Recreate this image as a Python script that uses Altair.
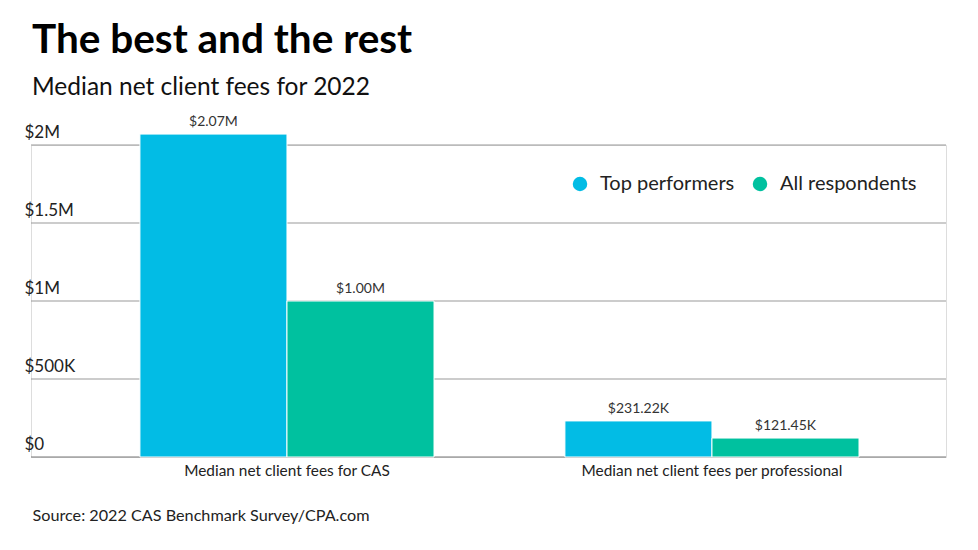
import altair as alt
import pandas as pd

categories = ["Median net client fees for CAS", "Median net client fees for CAS",
              "Median net client fees per professional", "Median net client fees per professional"]
series = ["Top performers", "All respondents", "Top performers", "All respondents"]
values = [2070000, 1000000, 231220, 121450]
labels = ["$2.07M", "$1.00M", "$231.22K", "$121.45K"]
y_ticks = [0, 500000, 1000000, 1500000, 2000000]

series_order = ["Top performers", "All respondents"]
cat_order = ["Median net client fees for CAS", "Median net client fees per professional"]
colors = ["#02BCE5", "#00C19F"]

df = pd.DataFrame({"category": categories, "series": series, "value": values, "label": labels})
grid_df = pd.DataFrame({"value": y_ticks})

FONT = "Lato"

x_scale = alt.Scale(paddingInner=0.308, paddingOuter=0.2305, align=0.556)
y_scale = alt.Scale(domain=[0, 2000000], nice=False)

x_axis = alt.Axis(title="Source: 2022 CAS Benchmark Survey/CPA.com", labelAngle=0,
                  labelFontSize=15.4, labelColor="#222", labelPadding=6, labelFont=FONT,
                  labelLimit=0, grid=False, ticks=False, domain=False,
                  titleAnchor="start", titleAlign="left", titleX=1, titleY=63,
                  titleBaseline="alphabetic", titleFont=FONT, titleFontSize=16.2,
                  titleFontWeight="normal", titleColor="#222")
y_axis = alt.Axis(title=None, values=y_ticks, grid=False,
                  labelExpr="datum.value == 0 ? '$0' : (datum.value < 1000000 ? '$' + datum.value/1000 + 'K' : '$' + datum.value/1000000 + 'M')",
                  labelAlign="left", labelBaseline="alphabetic", labelPadding=7,
                  labelOffset=-8, labelFontSize=17, labelColor="#222", labelFont=FONT,
                  ticks=False, tickSize=0, domain=False)

grid = alt.Chart(grid_df).mark_rule(strokeWidth=1).encode(
    y=alt.Y("value:Q", scale=y_scale, axis=y_axis),
    color=alt.condition(alt.datum.value == 0, alt.value("#777"), alt.value("#999")))

bars = alt.Chart(df).mark_bar(stroke="white", strokeWidth=1).encode(
    x=alt.X("category:N", sort=cat_order, scale=x_scale, axis=x_axis),
    xOffset=alt.XOffset("series:N", sort=series_order, scale=alt.Scale(paddingInner=0, paddingOuter=0)),
    y=alt.Y("value:Q", scale=y_scale, axis=y_axis),
    color=alt.Color("series:N", sort=series_order,
                    scale=alt.Scale(domain=series_order, range=colors),
                    legend=alt.Legend(title=None, orient="none", legendX=539, legendY=29,
                                      direction="horizontal", symbolType="circle",
                                      symbolSize=210, symbolStrokeWidth=0,
                                      labelFontSize=20, labelFont=FONT, labelColor="#222",
                                      labelOffset=10, columnPadding=15)),
)

text = alt.Chart(df).mark_text(dy=-8, baseline="alphabetic", fontSize=14, font=FONT, color="#333").encode(
    x=alt.X("category:N", sort=cat_order, scale=x_scale, axis=x_axis),
    xOffset=alt.XOffset("series:N", sort=series_order),
    y=alt.Y("value:Q", scale=y_scale, axis=y_axis), text="label:N")

chart = alt.layer(grid, bars, text).properties(
    width=915, height=312,
    autosize=alt.AutoSizeParams(type="none"),
    padding={"left": 23, "top": 137, "right": 24, "bottom": 85},
    title=alt.TitleParams(text="The best and the rest", subtitle="Median net client fees for 2022",
                          anchor="start", frame="group", offset=16, dx=1,
                          font=FONT, fontSize=40.5, fontWeight="bold", color="#000",
                          subtitleFont=FONT, subtitleFontSize=24.5, subtitleColor="#111",
                          subtitlePadding=14.5),
).configure_view(strokeWidth=0, stroke="transparent").configure_axis(
    domain=False, grid=False, ticks=False
).configure(font=FONT)

chart.save("out.html", embed_options={"renderer": "svg", "actions": False})
